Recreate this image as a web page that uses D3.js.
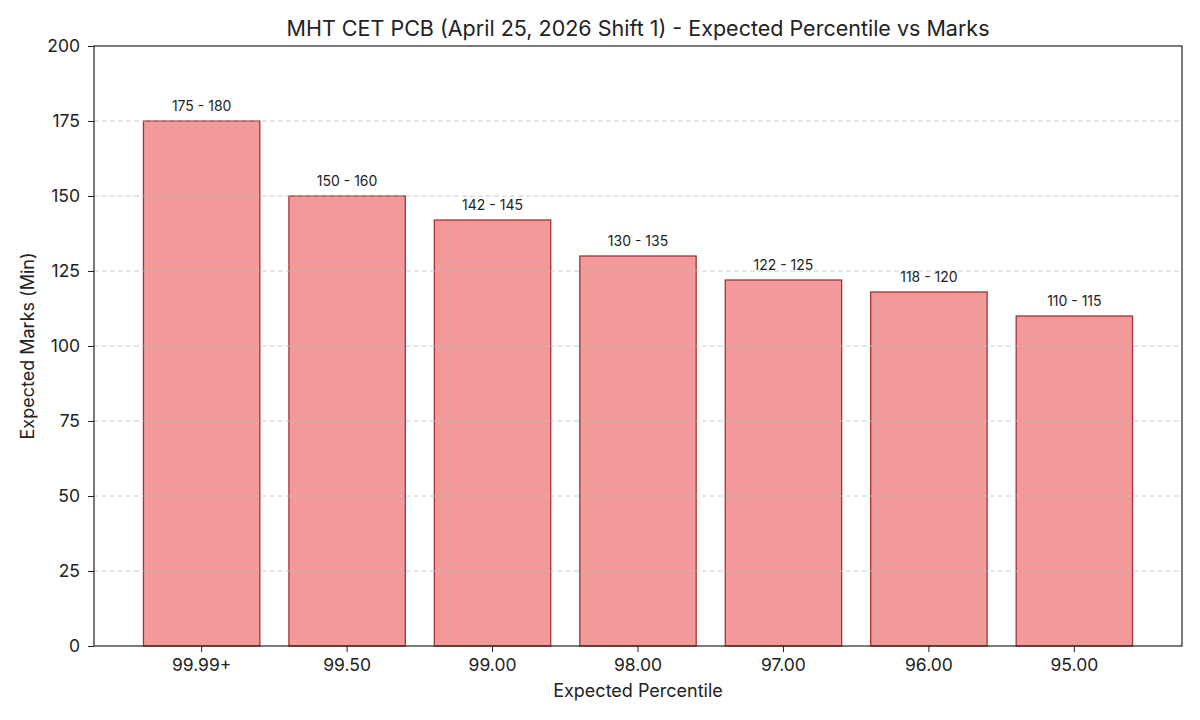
<!DOCTYPE html>
<html>
<head>
<meta charset="utf-8">
<script src="https://cdn.jsdelivr.net/npm/d3@7"></script>
<style>
    body { margin: 0; background: #fff; }
    svg text { font-family: Inter, "Open Sans", sans-serif; fill: #222; }
</style>
</head>
<body>
<div id="chart"></div>
<script>
// percentile categories and expected min marks
var percentiles = ["99.99+", "99.50", "99.00", "98.00", "97.00", "96.00", "95.00"];
var minMarks = [175, 150, 142, 130, 122, 118, 110];
var rangeLabels = ["175 - 180", "150 - 160", "142 - 145", "130 - 135", "122 - 125", "118 - 120", "110 - 115"];
var yTicks = [0, 25, 50, 75, 100, 125, 150, 175, 200];

var data = percentiles.map(function (p, i) {
    return { pct: p, marks: minMarks[i], label: rangeLabels[i] };
});

var margin = { left: 94, right: 18, top: 46, bottom: 74 };
var width = 1200 - margin.left - margin.right;
var height = 720 - margin.top - margin.bottom;

var svg = d3.select("#chart").append("svg")
    .attr("width", 1200)
    .attr("height", 720);

var g = svg.append("g")
    .attr("transform", "translate(" + margin.left + "," + margin.top + ")");

var x = d3.scaleBand()
    .domain(percentiles)
    .range([0, width])
    .paddingInner(0.2)
    .paddingOuter(0.34);

var y = d3.scaleLinear()
    .domain([0, 200])
    .range([height, 0]);

// bars
g.selectAll(".bar")
    .data(data)
    .enter()
    .append("rect")
    .attr("class", "bar")
    .attr("x", function (d) { return x(d.pct); })
    .attr("y", function (d) { return y(d.marks); })
    .attr("width", x.bandwidth())
    .attr("height", function (d) { return height - y(d.marks); })
    .attr("fill", "#f29a9a")
    .attr("stroke", "#a83232")
    .attr("stroke-width", 1.3);

// grid on top of bars
g.selectAll(".grid")
    .data(yTicks.filter(function (t) { return t > 0 && t < 200; }))
    .enter()
    .append("line")
    .attr("x1", 0)
    .attr("x2", width)
    .attr("y1", function (d) { return y(d); })
    .attr("y2", function (d) { return y(d); })
    .attr("stroke", "#bbbbbb")
    .attr("stroke-opacity", 0.75)
    .attr("stroke-dasharray", "5,3")
    .attr("stroke-width", 1);

// value labels
g.selectAll(".lbl")
    .data(data)
    .enter()
    .append("text")
    .attr("x", function (d) { return x(d.pct) + x.bandwidth() / 2; })
    .attr("y", function (d) { return y(d.marks) - 10; })
    .attr("text-anchor", "middle")
    .style("font-size", "14px")
    .text(function (d) { return d.label; });

// frame
g.append("rect")
    .attr("width", width)
    .attr("height", height)
    .attr("fill", "none")
    .attr("stroke", "#222")
    .attr("stroke-width", 1.2);

var xAxis = g.append("g")
    .attr("transform", "translate(0," + height + ")")
    .call(d3.axisBottom(x).tickSize(6).tickPadding(7));

var yAxis = g.append("g")
    .call(d3.axisLeft(y).tickValues(yTicks).tickSize(6).tickPadding(8));

[xAxis, yAxis].forEach(function (a) {
    a.select(".domain").remove();
    a.selectAll(".tick line").attr("stroke", "#222");
    a.selectAll(".tick text").style("font-size", "17.5px").attr("fill", "#222");
});

svg.append("text")
    .attr("x", margin.left + width / 2)
    .attr("y", 36)
    .attr("text-anchor", "middle")
    .style("font-size", "21.5px")
    .text("MHT CET PCB (April 25, 2026 Shift 1) - Expected Percentile vs Marks");

svg.append("text")
    .attr("x", margin.left + width / 2)
    .attr("y", 697)
    .attr("text-anchor", "middle")
    .style("font-size", "18px")
    .text("Expected Percentile");

svg.append("text")
    .attr("transform", "translate(34," + (margin.top + height / 2) + ") rotate(-90)")
    .attr("text-anchor", "middle")
    .style("font-size", "18px")
    .text("Expected Marks (Min)");
</script>
</body>
</html>
